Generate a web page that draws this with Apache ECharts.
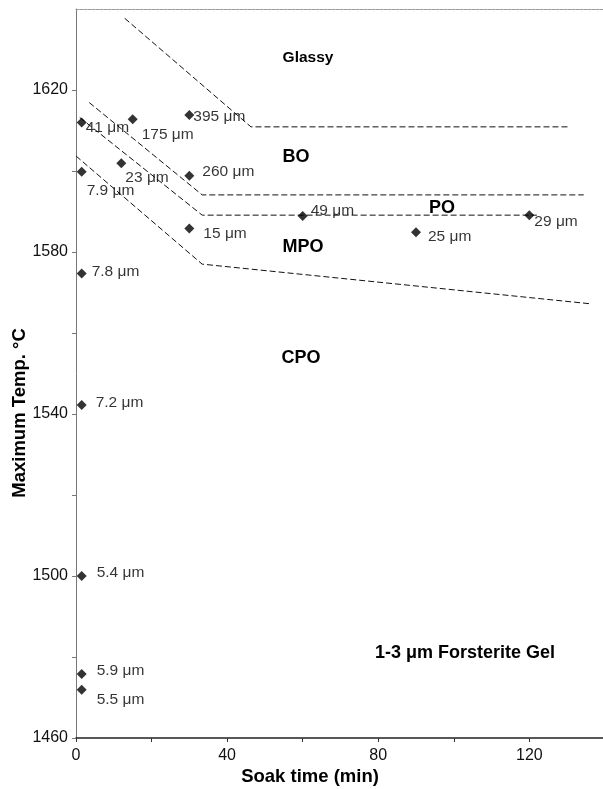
<!DOCTYPE html>
<html>
<head>
<meta charset="utf-8">
<script src="https://cdn.jsdelivr.net/npm/echarts@6/dist/echarts.min.js"></script>
<style>
html,body{margin:0;padding:0;background:#fff;overflow:hidden;}
#chart{width:603px;height:789px;}
</style>
</head>
<body>
<div id="chart"></div>
<script>
// ---- data ----
var pointX = [1.5, 15, 30, 1.5, 12, 30, 30, 1.5, 1.5, 1.5, 1.5, 1.5, 60, 90, 120];
var pointY = [1612.0, 1612.8, 1613.8, 1599.8, 1601.9, 1598.8, 1585.8, 1574.7, 1542.2, 1500.0, 1475.8, 1471.9, 1588.9, 1584.9, 1589.1];
var pointLabels = ['41 \u03bcm', '175 \u03bcm', '395 \u03bcm', '7.9 \u03bcm', '23 \u03bcm', '260 \u03bcm', '15 \u03bcm', '7.8 \u03bcm', '7.2 \u03bcm', '5.4 \u03bcm', '5.9 \u03bcm', '5.5 \u03bcm', '49 \u03bcm', '25 \u03bcm', '29 \u03bcm'];

var glassyX = [12.9, 46.3, 130.9];
var glassyY = [1637.7, 1610.9, 1610.9];
var boX = [3.5, 33.4, 134.4];
var boY = [1616.9, 1594.1, 1594.1];
var poX = [1.0, 33.4, 122];
var poY = [1613.2, 1589.1, 1589.1];
var mpoX = [0, 33.4, 136.3];
var mpoY = [1603.7, 1577.0, 1567.2];

var xTicks = [0, 40, 80, 120];
var xMinorTicks = [0, 20, 40, 60, 80, 100, 120];
var yTicks = [1460, 1500, 1540, 1580, 1620];
var yMinorTicks = [1460, 1480, 1500, 1520, 1540, 1560, 1580, 1600, 1620];

// ---- styles (label offsets from the marker, px) ----
var labelOffsets = [[4,5],[9,16],[4,2],[5,19],[4,14],[13,-4],[14,5],[10,-2],[14,-2],[15,-3],[15,-3],[15,10],[8,-5],[12,5],[5,7]];

var FONT = "'Liberation Sans', Arial, Helvetica, sans-serif";

function pairs(xs, ys){ return xs.map(function(x,i){ return [x, ys[i]]; }); }

var pts = pointX.map(function(x,i){
  return {
    value: [x, pointY[i]],
    label: {
      show: true,
      formatter: pointLabels[i],
      position: 'right',
      distance: 0,
      offset: [labelOffsets[i][0]-5, labelOffsets[i][1]],
      fontFamily: FONT,
      fontSize: 15.5,
      color: '#000'
    }
  };
});

var dashStyle = {color:'#111', width:1, type:[6,3]};
function boundary(xs, ys){
  return {type:'line', data: pairs(xs, ys), symbol:'none', lineStyle: dashStyle, silent:true, z:2, animation:false};
}

function txt(s, x, y, font, rot){
  return {type:'text', x:x, y:y, rotation: rot || 0,
    style:{text:s, x:0, y:0, font:font, fill:'#000', align:'center', verticalAlign:'middle', textAlign:'center', textVerticalAlign:'middle'}};
}

var chart = echarts.init(document.getElementById('chart'), null, {renderer:'canvas'});
chart.setOption({
  animation: false,
  backgroundColor: '#fff',
  grid: {left: 76, right: -2, top: 9, bottom: 51},
  xAxis: [{
    type: 'value', min: 0, max: 139.5, interval: 20,
    axisLine: {lineStyle: {color:'#222', width:1.5}},
    axisTick: {show:true, length:4, customValues: xMinorTicks, lineStyle:{color:'#333'}},
    splitLine: {show:false},
    axisLabel: {
      margin: 10, color:'#111', fontFamily: FONT, fontSize: 16,
      customValues: xTicks,
      formatter: function(v){ return String(v); }
    }
  },{
    type: 'value', position:'top', min:0, max:139.5,
    axisLine: {show:true, onZero:false, lineStyle:{color:'#999', width:1, type:[3,1]}},
    axisTick: {show:false}, axisLabel:{show:false}, splitLine:{show:false}
  }],
  yAxis: [{
    type: 'value', min: 1460, max: 1640, interval: 20,
    axisLine: {show:true, lineStyle: {color:'#777', width:1}},
    axisTick: {show:true, length:4, customValues: yMinorTicks, lineStyle:{color:'#777'}},
    splitLine: {show:false},
    axisLabel: {
      margin: 8, color:'#111', fontFamily: FONT, fontSize: 16,
      customValues: yTicks,
      formatter: function(v){ return String(v); }
    }
  }],
  series: [
    boundary(glassyX, glassyY),
    boundary(boX, boY),
    boundary(poX, poY),
    boundary(mpoX, mpoY),
    {
      type: 'scatter', symbol: 'diamond', symbolSize: 10,
      itemStyle: {color:'#000'}, data: pts, z: 5
    }
  ],
  graphic: [
    txt('Maximum Temp. \u00b0C', 19.5, 413, 'bold 18.5px '+FONT, Math.PI/2),
    txt('Soak time (min)', 310, 777, 'bold 18.5px '+FONT),
    txt('Glassy', 308, 58, 'bold 15.5px '+FONT),
    txt('BO', 296, 157, 'bold 18px '+FONT),
    txt('PO', 442, 208, 'bold 18px '+FONT),
    txt('MPO', 303, 247, 'bold 18px '+FONT),
    txt('CPO', 301, 358, 'bold 18px '+FONT),
    txt('1-3 \u03bcm Forsterite Gel', 465, 653, 'bold 18px '+FONT)
  ]
});
</script>
</body>
</html>
